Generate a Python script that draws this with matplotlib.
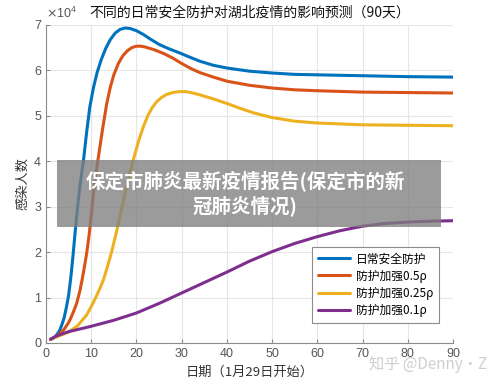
import matplotlib
matplotlib.use("Agg")
from matplotlib import pyplot as plt
from matplotlib.patches import Rectangle

plt.rcParams['font.family'] = ['Liberation Sans', 'Noto Sans CJK SC', 'DejaVu Sans']
CJK = ['Noto Sans CJK SC', 'DejaVu Sans']

# dados (unidade: 10^4 pessoas)
x_azul = [1, 2, 3, 3.5, 4, 4.5, 5, 5.5, 6, 6.5, 7, 7.5, 8.3, 9, 9.7, 10.5, 11.3, 12.2, 13.2, 14.2,
          15.3, 16.4, 17.5, 18.6, 20, 21.5, 23, 25, 27, 29.6, 32, 34, 37, 40, 45, 50, 55, 60, 70, 80, 90]
y_azul = [0.08, 0.13, 0.27, 0.4, 0.55, 0.78, 1.05, 1.45, 1.95, 2.5, 3.0, 3.45, 4.03, 4.65, 5.2, 5.62, 5.95, 6.23, 6.48, 6.67,
          6.82, 6.9, 6.93, 6.92, 6.87, 6.79, 6.69, 6.57, 6.48, 6.38, 6.28, 6.2, 6.11, 6.05, 5.98, 5.94, 5.91, 5.9, 5.88, 5.86, 5.85]

x_vermelho = [1, 2, 3, 4, 5, 5.5, 6.2, 6.8, 7.5, 8, 8.5, 9, 9.5, 10, 10.5, 11, 11.6, 12.5, 13.4, 14.2,
              15, 16, 17, 18, 19, 20, 21, 22, 24, 26, 28, 30, 32, 34, 37, 40, 45, 50, 55, 60, 70, 80, 90]
y_vermelho = [0.08, 0.13, 0.2, 0.3, 0.45, 0.55, 0.72, 0.88, 1.15, 1.4, 1.68, 1.98, 2.35, 2.8, 3.3, 3.7, 4.1, 4.7, 5.25, 5.62,
              5.9, 6.15, 6.32, 6.43, 6.5, 6.53, 6.53, 6.51, 6.45, 6.37, 6.27, 6.15, 6.04, 5.95, 5.85, 5.76, 5.67, 5.61, 5.57, 5.55,
              5.52, 5.51, 5.5]

x_amarelo = [1, 3, 5, 7, 9, 10, 11, 12, 12.7, 13.5, 14.5, 15.6, 16.5, 17.5, 18.5, 19.5, 20.5, 21.5, 22.5,
             23.5, 24.5, 25.5, 26.7, 28, 29.5, 31, 32.5, 34, 37, 40, 43, 46, 50, 55, 60, 70, 80, 90]
y_amarelo = [0.08, 0.16, 0.24, 0.38, 0.62, 0.8, 1.0, 1.22, 1.39, 1.65, 2.0, 2.45, 2.85, 3.3, 3.72, 4.1, 4.45, 4.75, 5.0,
             5.18, 5.31, 5.4, 5.47, 5.51, 5.53, 5.53, 5.5, 5.46, 5.37, 5.27, 5.16, 5.06, 4.96, 4.88, 4.84, 4.8, 4.79, 4.78]

x_roxo = [1, 2, 3, 5, 9.7, 15, 20, 25, 30, 35, 40, 45, 50, 55, 60, 65, 70, 75, 80, 85, 90]
y_roxo = [0.08, 0.14, 0.18, 0.25, 0.36, 0.5, 0.66, 0.87, 1.1, 1.33, 1.56, 1.8, 2.01, 2.19, 2.34, 2.47, 2.57, 2.63, 2.66,
          2.68, 2.69]

nomes = ["日常安全防护", "防护加强0.5ρ", "防护加强0.25ρ", "防护加强0.1ρ"]
cores = ['#0072BD', '#D95319', '#EDB120', '#7E2F8E']

fig = plt.figure(figsize=(5, 3.88), dpi=100)
ax = fig.add_axes([0.092, 0.116, 0.814, 0.82])

series = [(x_azul, y_azul), (x_vermelho, y_vermelho), (x_amarelo, y_amarelo), (x_roxo, y_roxo)]
for (xs, ys), nome, cor in zip(series, nomes, cores):
    ax.plot(xs, ys, color=cor, linewidth=2.2, label=nome, solid_capstyle='round', solid_joinstyle='round')

ax.set_xlim(0, 90)
ax.set_ylim(0, 7)
ax.set_xticks(range(0, 91, 10))
ax.set_yticks(range(0, 8))
ax.grid(True, color='#e6e6e6', linewidth=0.8)
ax.set_axisbelow(True)
for lado in ['top', 'right']:
    ax.spines[lado].set_visible(False)
for lado in ['left', 'bottom']:
    ax.spines[lado].set_color('#8c8c8c')
ax.tick_params(direction='in', colors='#8c8c8c', labelcolor='#555555', labelsize=9, length=3)

ax.text(0.0, 1.012, r'$\times\mathregular{10^4}$', transform=ax.transAxes, fontsize=9,
        color='#555555', ha='left', va='bottom')
ax.set_title("不同的日常安全防护对湖北疫情的影响预测（90天）", fontsize=10, color='#111111', pad=6, family=CJK)
ax.set_xlabel("日期（1月29日开始）", fontsize=9.5, color='#333333', labelpad=4, family=CJK)
ax.set_ylabel("感染人数", fontsize=9.5, color='#333333', labelpad=4, family=CJK)

leg = ax.legend(loc='lower right', bbox_to_anchor=(0.98, 0.045), fontsize=8.5, handlelength=2.7,
                fancybox=False, edgecolor='#8c8c8c', framealpha=1, labelspacing=0.35,
                borderpad=0.5, handletextpad=0.5, prop={'family': CJK, 'size': 8.5})
leg.get_frame().set_linewidth(0.8)

# faixa cinza por cima
fig.patches.append(Rectangle((0.114, 0.415), 0.768, 0.173, transform=fig.transFigure,
                             facecolor='#7f7f7f', alpha=0.78, edgecolor='none', zorder=5))
fig.text(0.49, 0.502, "保定市肺炎最新疫情报告(保定市的新\n冠肺炎情况)", ha='center', va='center',
         fontsize=14, fontweight='bold', color='white', linespacing=1.25,
         family=CJK, zorder=6)

fig.text(0.974, 0.06, "知乎 @Denny·Z", ha='right', va='center', fontsize=11, color='#cfcfcf',
         family=CJK)

fig.savefig('out.png', dpi=100)
